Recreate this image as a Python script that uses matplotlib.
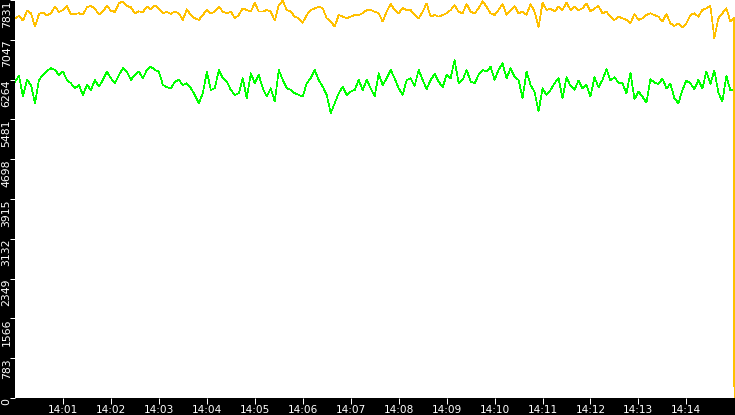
import matplotlib
matplotlib.use("Agg")
import matplotlib.pyplot as plt
import numpy as np

# ---- data ----
# sample times in seconds after 14:00 (5-second samples, then the final drop)
sample_step_s = 5
n_samples = 180

yellow_main = [
    # 14:00 - 14:03:45
    7471, 7516, 7425, 7621, 7569, 7307, 7556, 7582, 7530, 7569, 7700, 7595, 7634, 7713, 7543,
    7556, 7569, 7543, 7687, 7713, 7661, 7543, 7608, 7713, 7621, 7595, 7765, 7805, 7713, 7687,
    7569, 7608, 7595, 7700, 7648, 7726, 7661, 7569, 7595, 7556, 7608, 7569, 7438, 7648, 7530,
    # 14:03:45 - 14:07:30
    7471, 7438, 7536, 7634, 7569, 7602, 7700, 7602, 7569, 7602, 7471, 7536, 7667, 7634, 7602,
    7779, 7602, 7602, 7634, 7602, 7425, 7733, 7818, 7634, 7602, 7503, 7471, 7385, 7536, 7634,
    7667, 7700, 7667, 7471, 7405, 7307, 7536, 7503, 7471, 7503, 7536, 7536, 7569, 7634, 7634,
    # 14:07:30 - 14:11:15
    7602, 7569, 7405, 7602, 7752, 7634, 7569, 7674, 7634, 7634, 7536, 7471, 7602, 7765, 7503,
    7536, 7503, 7536, 7569, 7634, 7726, 7602, 7569, 7752, 7602, 7569, 7667, 7805, 7700, 7569,
    7536, 7634, 7752, 7536, 7634, 7713, 7569, 7602, 7536, 7752, 7602, 7294, 7779, 7634, 7667,
    # 14:11:15 - 14:14:55
    7602, 7700, 7634, 7779, 7634, 7700, 7634, 7667, 7765, 7602, 7667, 7713, 7569, 7602, 7503,
    7438, 7503, 7471, 7438, 7372, 7556, 7438, 7471, 7536, 7569, 7536, 7503, 7405, 7556, 7372,
    7320, 7372, 7294, 7372, 7536, 7569, 7503, 7634, 7667, 7713, 7077, 7471, 7569, 7667, 7405,
]

green_main = [
    # 14:00 - 14:03:45
    6226, 6337, 5931, 6258, 6160, 5800, 6258, 6357, 6442, 6488, 6455, 6357, 6422, 6258, 6193,
    6094, 6160, 5963, 6160, 6062, 6258, 6127, 6258, 6422, 6291, 6193, 6357, 6488, 6422, 6258,
    6357, 6422, 6291, 6455, 6520, 6455, 6422, 6160, 6114, 6094, 6226, 6258, 6160, 6193, 6094,
    # 14:03:45 - 14:07:30
    5963, 5800, 5996, 6422, 6062, 6094, 6455, 6291, 6226, 6062, 5963, 5996, 6291, 5898, 6389,
    6193, 6357, 6094, 5931, 6094, 5832, 6455, 6258, 6094, 6062, 5996, 5963, 5931, 6193, 6291,
    6455, 6258, 6127, 5963, 5603, 5800, 5996, 6127, 5963, 6029, 6062, 6258, 6062, 6258, 6094,
    # 14:07:30 - 14:11:15
    5931, 6389, 6160, 6291, 6455, 6291, 6094, 5963, 6258, 6291, 6140, 6455, 6258, 6075, 6258,
    6376, 6226, 6114, 6357, 6291, 6651, 6193, 6258, 6455, 6226, 6193, 6357, 6455, 6422, 6520,
    6258, 6455, 6586, 6291, 6488, 6324, 6258, 5898, 6422, 6160, 6029, 5636, 6094, 5963, 6062,
    # 14:11:15 - 14:14:55
    6193, 6291, 5898, 6311, 6140, 6062, 6245, 6094, 6160, 5931, 6311, 6114, 6258, 6468, 6245,
    6311, 6206, 6193, 5996, 6402, 5878, 6029, 5931, 5813, 6271, 6206, 6180, 6284, 6094, 6180,
    5898, 5800, 6062, 6245, 6193, 6075, 6258, 6094, 6422, 6180, 6442, 6009, 5832, 6337, 6049,
]

# last moments (14:14:59.5 and 14:15:00): both series drop
tail_times = [899.5, 900.0]
yellow_tail = [7480, 0]
green_tail_times = [899.5, 900.0, 900.0]
green_tail = [6080, 4010, 3230]

y_ticks = [0, 783.1, 1566.2, 2349.3, 3132.4, 3915.5, 4698.6, 5481.7, 6264.8, 7047.9, 7831]
y_tick_labels = ["0", "783", "1566", "2349", "3132", "3915", "4698", "5481", "6264", "7047", "7831"]
x_ticks = [60 * m for m in range(1, 15)]
x_tick_labels = ["14:%02d" % m for m in range(1, 15)]

# ---- assemble ----
t_main = np.arange(n_samples) * sample_step_s
t_yellow = np.concatenate([t_main, tail_times])
v_yellow = np.concatenate([yellow_main, yellow_tail])
t_green = np.concatenate([t_main, green_tail_times])
v_green = np.concatenate([green_main, green_tail])

W, H, DPI = 735, 415, 100
fig = plt.figure(figsize=(W / DPI, H / DPI), dpi=DPI, facecolor="black")
ax = fig.add_axes([15 / W, 17 / H, 720 / W, 398 / H])
ax.set_facecolor("white")

lw = 0.5
ax.plot(t_green, v_green, color="#00FF00", lw=lw, antialiased=False)
ax.plot(t_yellow, v_yellow, color="#FFC000", lw=lw, antialiased=False)

ax.set_xlim(0, 900.8)
ax.set_ylim(0, 7831)

for s in ax.spines.values():
    s.set_visible(False)

ax.set_xticks(x_ticks)
ax.set_xticklabels(x_tick_labels)
ax.set_yticks(y_ticks)
ax.set_yticklabels(y_tick_labels)

ax.tick_params(axis="x", colors="white", length=4.3, width=0.72, pad=0.8, labelsize=7.6,
               direction="out")
ax.tick_params(axis="y", colors="white", length=3.4, width=0.72, pad=-1.0, labelsize=7.8,
               direction="out")
for lbl in ax.get_yticklabels():
    lbl.set_rotation(90)
    lbl.set_va("top")
    lbl.set_ha("right")

fig.savefig("out.png", dpi=DPI, facecolor="black")
